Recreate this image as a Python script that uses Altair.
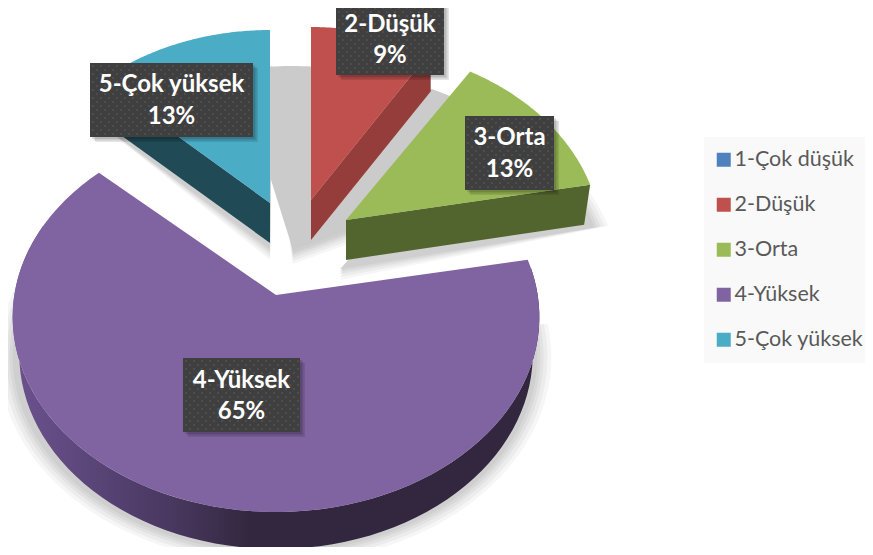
import math
import altair as alt
import pandas as pd

categories = ["1-Çok düşük", "2-Düşük", "3-Orta", "4-Yüksek", "5-Çok yüksek"]
percents = [0, 9, 13, 65, 13]
top_colors = ["#4f81bd", "#c0504d", "#9bbb59", "#8064a2", "#4bacc6"]
side_colors = ["#2f4d71", "#953d3b", "#53652e", "#33273f", "#1f4a56"]
apex_x = [275, 311, 346, 276, 270]
apex_y = [295, 200, 220, 295, 203]
radius_scale = [1, 0.93, 0.965, 0.995, 0.95]
label_left = [0, 336, 465, 183, 90]
label_right = [0, 444, 554, 300, 253]
label_top = [0, 1, 116, 358, 63]
label_bottom = [0, 75, 190, 432, 137]
name_y = [0, 25, 138, 381, 85]
pct_y = [0, 56, 170, 412, 117]

DEPTH = 40
RIM = 37
P, K, M = 0.1128, 263.0, 192.5


def pt(deg, ox, oy, sx=1.0, sy=1.0):
    t = math.radians(deg)
    X, Z = math.sin(t), -math.cos(t)
    d = 1 - P * Z
    return [ox + sx * K * X / d, oy + sy * M * Z / d]


def arc(a0, a1, ox, oy, sx=1.0, sy=1.0, n=80):
    return [pt(a0 + (a1 - a0) * i / n, ox, oy, sx, sy) for i in range(n + 1)]


def feature(ring, **props):
    ring = ring + [ring[0]]
    return {"type": "Feature", "properties": props,
            "geometry": {"type": "Polygon", "coordinates": [ring]}}


# cumulative start and end angle of every slice
starts, ends, run = [], [], 0
for p in percents:
    starts.append(run * 3.6)
    run += p
    ends.append(run * 3.6)

# top surfaces
tops = []
for i, c in enumerate(categories):
    if percents[i] > 0:
        ring = [[apex_x[i], apex_y[i]]] + arc(starts[i], ends[i], apex_x[i], apex_y[i],
                                              radius_scale[i], 1.0)
        tops.append(feature(ring, cat=c))


def radial_side(i, a, taper=0.0):
    p = pt(a, apex_x[i], apex_y[i], radius_scale[i], 1.0)
    return feature([[apex_x[i], apex_y[i]], p, [p[0] - taper, p[1] + DEPTH],
                    [apex_x[i], apex_y[i] + DEPTH]], c=side_colors[i])


flat_sides = [radial_side(1, ends[1]), radial_side(2, ends[2], 6), radial_side(4, starts[4])]

# rim of the big slice, bottom edge slightly narrower
rim_top = arc(82, 292, 276, 295, 0.995)
rim_bot = arc(82, 292, 276, 295 + RIM, 0.97, 1.0)
rim = [feature(rim_top + rim_bot[::-1], c="rim")]

# soft shadows, painted from the outer pale band to the inner grey
shadow_steps = [(0.06, "#f6f6f6"), (0.045, "#ececec"), (0.03, "#e2e2e2"),
                (0.018, "#d8d8d8"), (0.006, "#cfcfcf")]
shadows = []
for grow, col in shadow_steps:
    f = 1 + grow
    g = f - 1
    shadows.append(feature([[275 - 2, 340]] + arc(starts[3] + 8, ends[3] - 30, 275, 295 + RIM + 2, f * 0.985, f), c=col))
    shadows.append(feature([[346 - 6, 220 + DEPTH + 8 + g * 200]] + arc(starts[2], ends[2], 346 + 2, 220 + DEPTH + 2, 0.97 * f, 0.97 * f), c=col))
    shadows.append(feature([[270, 203 + DEPTH + 5 + g * 200]] + arc(starts[4], 360, 270 + 2, 203 + DEPTH + 5, 0.95 * f, f), c=col))
    shadows.append(feature([[293, 252 + g * 200]] + arc(-6, 62, 293, 252 + g * 200, 1.15, 1.075), c=col))
shadows.append(feature([[293, 250]] + arc(-12, 62, 293, 252, 1.15, 1.075), c="#cbcbcb"))

X = alt.X("x:Q", scale=alt.Scale(domain=[8, 865]), axis=None)
Y = alt.Y("y:Q", scale=alt.Scale(domain=[547, 8]), axis=None)
proj = alt.Projection(type="identity", scale=1, translate=[-8, -8])

shadow_layer = alt.Chart(alt.Data(values=shadows)).mark_geoshape(strokeWidth=0).encode(
    color=alt.Color("properties.c:N", scale=None, legend=None)).project(**proj.to_dict())
rim_layer = alt.Chart(alt.Data(values=rim)).mark_geoshape(
    strokeWidth=0,
    fill=alt.Gradient(gradient="linear", x1=0, x2=1, y1=0, y2=0, stops=[
        alt.GradientStop(offset=0, color="#6c528f"),
        alt.GradientStop(offset=0.15, color="#5a4578"),
        alt.GradientStop(offset=0.33, color="#45355a"),
        alt.GradientStop(offset=0.45, color="#33273f"),
        alt.GradientStop(offset=1, color="#33273f"),
    ])).project(**proj.to_dict())
side_layer = alt.Chart(alt.Data(values=flat_sides)).mark_geoshape(strokeWidth=0).encode(
    color=alt.Color("properties.c:N", scale=None, legend=None)).project(**proj.to_dict())
top_layer = alt.Chart(alt.Data(values=tops)).mark_geoshape(strokeWidth=0).encode(
    color=alt.Color("properties.cat:N",
                    scale=alt.Scale(domain=categories, range=top_colors),
                    legend=alt.Legend(orient="none", legendX=696, legendY=129, title=None,
                                      fillColor="#f9f9f9", padding=12, symbolType="square",
                                      symbolSize=196, symbolStrokeWidth=0, symbolOffset=-3,
                                      labelFont="Lato", labelFontSize=21.5, labelColor="#595959",
                                      rowPadding=22, labelOffset=0, labelLimit=200))
).project(**proj.to_dict())

rows = [i for i in range(5) if percents[i] > 0]
labels = pd.DataFrame({
    "x": [label_left[i] for i in rows], "x2": [label_right[i] for i in rows],
    "y": [label_top[i] for i in rows], "y2": [label_bottom[i] for i in rows],
})
shadow_parts = []
for off in (5, 3.5, 2):
    s = labels.copy()
    s[["x", "x2", "y", "y2"]] += off
    shadow_parts.append(s)
rect_sh = alt.Chart(pd.concat(shadow_parts)).mark_rect(color="#000000", opacity=0.1).encode(
    x=X, x2="x2:Q", y=Y, y2="y2:Q")
rect = alt.Chart(labels).mark_rect(color="#3f3f3f").encode(x=X, x2="x2:Q", y=Y, y2="y2:Q")

dots = []
for i in rows:
    row = 0
    yy = label_top[i] + 3
    while yy < label_bottom[i]:
        xx = label_left[i] + 3 + (row % 2) * 4
        while xx < label_right[i]:
            dots.append({"x": xx, "y": yy})
            xx += 8
        yy += 4
        row += 1
dot_layer = alt.Chart(pd.DataFrame(dots)).mark_circle(size=3, color="#5c5c5c", opacity=1).encode(x=X, y=Y)

text_df = pd.DataFrame(
    [{"x": (label_left[i] + label_right[i]) / 2, "y": name_y[i], "t": categories[i]} for i in rows]
    + [{"x": (label_left[i] + label_right[i]) / 2, "y": pct_y[i], "t": f"{percents[i]}%"} for i in rows])
text = alt.Chart(text_df).mark_text(font="Lato", fontWeight="bold", fontSize=24, color="#ffffff",
                                    baseline="middle", align="center").encode(x=X, y=Y, text="t:N")

chart = alt.layer(shadow_layer, rim_layer, side_layer, top_layer, rect_sh, rect, dot_layer, text).properties(
    width=857, height=539, padding=0, background="#ffffff",
    autosize=alt.AutoSizeParams(type="none")
).resolve_scale(color="independent").configure_view(strokeWidth=0)

chart.save("out.html", embed_options={"renderer": "svg", "actions": False})
